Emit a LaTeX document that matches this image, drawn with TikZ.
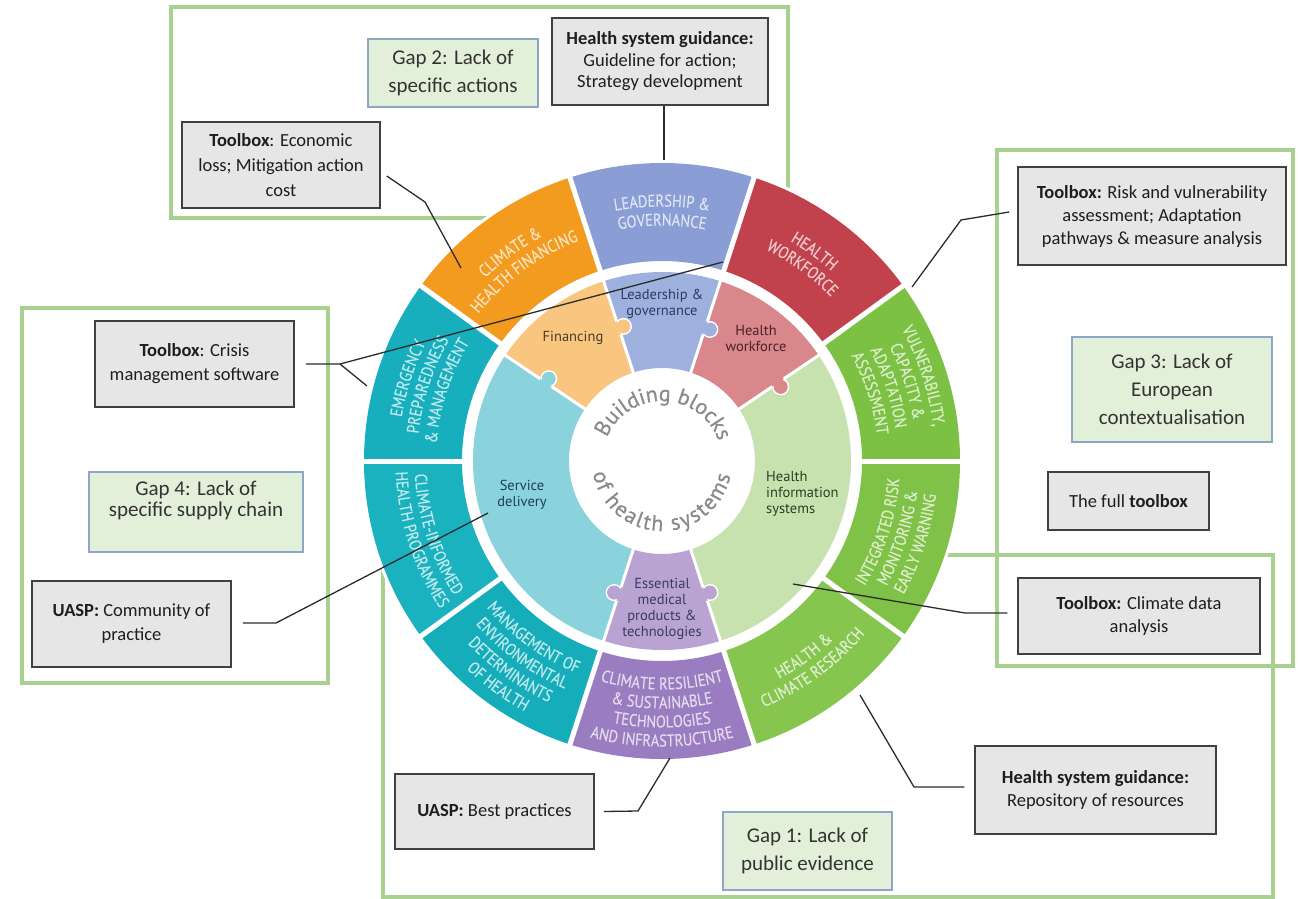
\documentclass[tikz,border=0pt]{standalone}
\usepackage{fontspec}
\setmainfont{Carlito}
\newfontfamily\wheelfont{PT Sans}
\newfontfamily\centerfont[FakeBold=0.6]{PT Sans}
\newfontfamily\ringfont[FakeStretch=0.85,FakeBold=0.35]{PT Sans}
\usetikzlibrary{decorations.text}

\definecolor{frameG}{HTML}{A9D08E}
\definecolor{boxfill}{HTML}{E7E6E6}
\definecolor{boxline}{HTML}{404040}
\definecolor{gapfill}{HTML}{E2EFD9}
\definecolor{gapline}{HTML}{8EA6C6}
\definecolor{txt}{HTML}{1E1E1E}
\definecolor{gaptxt}{HTML}{333333}
\definecolor{connc}{HTML}{2B2B2B}
% outer ring
\definecolor{segBlue}{HTML}{8A9ED5}
\definecolor{segRed}{HTML}{C1414D}
\definecolor{segGreenA}{HTML}{7CC143}
\definecolor{segGreenB}{HTML}{80C247}
\definecolor{segGreenC}{HTML}{86C54E}
\definecolor{segPurple}{HTML}{9A7DC0}
\definecolor{segTealA}{HTML}{17AFBD}
\definecolor{segTealB}{HTML}{1BB2C0}
\definecolor{segTealC}{HTML}{16ADBB}
\definecolor{segOrange}{HTML}{F39B1F}
% middle ring
\definecolor{mBlue}{HTML}{9EB1DE}
\definecolor{mOrange}{HTML}{F9C67F}
\definecolor{mRose}{HTML}{D9878B}
\definecolor{mTeal}{HTML}{8AD3DD}
\definecolor{mPurple}{HTML}{B9A3D3}
\definecolor{mGreen}{HTML}{C8E2AF}
% middle text
\definecolor{tNavy}{HTML}{2D3A62}
\definecolor{tBrown}{HTML}{4A3B28}
\definecolor{tDRed}{HTML}{4A2326}
\definecolor{tDTeal}{HTML}{1F3F57}
\definecolor{tDGreen}{HTML}{2B4020}
\definecolor{tDPurple}{HTML}{3B3A63}
\definecolor{centerGray}{HTML}{8A8A8A}

\newcommand\wsector[5]{%
  \fill[#1] (#2:#4) arc[start angle=#2,end angle=#3,radius=#4]
    -- (#3:#5) arc[start angle=#3,end angle=#2,radius=#5] -- cycle;}
\newcommand\knob[4]{%
  \fill[white] (#2:140) circle[radius=8.5];
  \fill[#1] (#2:140) circle[radius=7];
  \begin{scope}
    \clip (#3:93) arc[start angle=#3,end angle=#4,radius=93]
      -- (#4:189) arc[start angle=#4,end angle=#3,radius=189] -- cycle;
    \fill[#1] (#2:140) circle[radius=9];
  \end{scope}}
\newcommand\ringup[4]{%
  \path[decorate,decoration={text along path,text align=center,
    text={|\ringfont\fontsize{17}{17}\selectfont\color{#3}|#4}}]
    ({#1+45}:#2) arc[start angle=#1+45,end angle=#1-45,radius=#2];}
\newcommand\ringdn[4]{%
  \path[decorate,decoration={text along path,text align=center,
    text={|\ringfont\fontsize{17}{17}\selectfont\color{#3}|#4}}]
    ({#1-45}:#2) arc[start angle=#1-45,end angle=#1+45,radius=#2];}

\tikzset{
  frame/.style={draw=frameG,line width=3.5},
  graybox/.style={draw=boxline,fill=boxfill,line width=1.5,inner sep=0,
    align=center,text=txt,font=\fontsize{18.5}{23}\selectfont},
  gapbox/.style={draw=gapline,fill=gapfill,line width=1.1,inner sep=0,
    align=center,text=gaptxt,font=\fontsize{21}{28}\selectfont},
  conn/.style={draw=connc,line width=1.3},
  mtext/.style={inner sep=0,align=center,font=\wheelfont\fontsize{14.5}{16}\selectfont},
  sepO/.style={draw=white,line width=5},
  sepM/.style={draw=white,line width=3}
}

\begin{document}
\begin{tikzpicture}[x=1pt,y=1pt]
\useasboundingbox (0,0) rectangle (1298,-899);

% green frames
\draw[frame] (171,-7) rectangle (788,-218);
\draw[frame] (22,-308) rectangle (328,-683);
\draw[frame] (997,-150) rectangle (1293,-666);
\draw[frame] (383,-555) rectangle (1273,-897);

% ---------------- wheel ----------------
\begin{scope}[shift={(662,-461)}]
  \fill[white] (0,0) circle[radius=301];
  % outer ring
  \wsector{segBlue}{72}{108}{200}{298}
  \wsector{segRed}{36}{72}{200}{298}
  \wsector{segGreenA}{0}{36}{200}{298}
  \wsector{segGreenB}{-36}{0}{200}{298}
  \wsector{segGreenC}{-72}{-36}{200}{298}
  \wsector{segPurple}{-108}{-72}{200}{298}
  \wsector{segTealC}{-144}{-108}{200}{298}
  \wsector{segTealB}{180}{216}{200}{298}
  \wsector{segTealA}{144}{180}{200}{298}
  \wsector{segOrange}{108}{144}{200}{298}
  \foreach \a in {0,36,...,324} \draw[sepO] (\a:195) -- (\a:303);
  % middle ring
  \wsector{mBlue}{72}{108}{93}{189}
  \wsector{mOrange}{108}{146}{93}{189}
  \wsector{mTeal}{146}{252}{93}{189}
  \wsector{mPurple}{252}{288}{93}{189}
  \wsector{mGreen}{-72}{34}{93}{189}
  \wsector{mRose}{34}{72}{93}{189}
  \foreach \a in {108,72,34,-72,-108,146} \draw[sepM] (\a:90) -- (\a:192);
  \knob{mOrange}{106}{108}{146}
  \knob{mBlue}{70}{72}{108}
  \knob{mTeal}{144}{146}{252}
  \knob{mRose}{32}{34}{72}
  \knob{mPurple}{250}{252}{288}
  \knob{mPurple}{290}{252}{288}

  % outer ring texts
  \ringup{90}{254.5}{segBlue!28!white}{LEADERSHIP {\&}}
  \ringup{90}{235.5}{segBlue!28!white}{GOVERNANCE}
  \ringup{54}{254.5}{segRed!28!white}{HEALTH}
  \ringup{54}{235.5}{segRed!28!white}{WORKFORCE}
  \ringup{18}{273.5}{segGreenA!28!white}{VULNERABILITY,}
  \ringup{18}{254.5}{segGreenA!28!white}{CAPACITY {\&}}
  \ringup{18}{235.5}{segGreenA!28!white}{ADAPTATION}
  \ringup{18}{216.5}{segGreenA!28!white}{ASSESSMENT}
  \ringup{162}{264}{segTealA!28!white}{EMERGENCY}
  \ringup{162}{245}{segTealA!28!white}{PREPAREDNESS}
  \ringup{162}{226}{segTealA!28!white}{{\&} MANAGEMENT}
  \ringup{126}{254.5}{segOrange!28!white}{CLIMATE {\&}}
  \ringup{126}{235.5}{segOrange!28!white}{HEALTH FINANCING}
  \ringdn{-18}{238}{segGreenB!28!white}{INTEGRATED RISK}
  \ringdn{-18}{257}{segGreenB!28!white}{MONITORING {\&}}
  \ringdn{-18}{276}{segGreenB!28!white}{EARLY WARNING}
  \ringdn{-54}{247.5}{segGreenC!28!white}{HEALTH {\&}}
  \ringdn{-54}{266.5}{segGreenC!28!white}{CLIMATE RESEARCH}
  \ringdn{-90}{228.5}{segPurple!28!white}{CLIMATE RESILIENT}
  \ringdn{-90}{247.5}{segPurple!28!white}{{\&} SUSTAINABLE}
  \ringdn{-90}{266.5}{segPurple!28!white}{TECHNOLOGIES}
  \ringdn{-90}{285.5}{segPurple!28!white}{AND INFRASTRUCTURE}
  \ringdn{-126}{228.5}{segTealC!28!white}{MANAGEMENT OF}
  \ringdn{-126}{247.5}{segTealC!28!white}{ENVIRONMENTAL}
  \ringdn{-126}{266.5}{segTealC!28!white}{DETERMINANTS}
  \ringdn{-126}{285.5}{segTealC!28!white}{OF HEALTH}
  \ringdn{-162}{247.5}{segTealB!28!white}{CLIMATE-INFORMED}
  \ringdn{-162}{266.5}{segTealB!28!white}{HEALTH PROGRAMMES}

  % middle ring texts
  \node[mtext,text=tNavy] (tlead) at (0,157) {Leadership \&\\governance};
  \node[mtext,text=tBrown] (tfin) at (-89,123) {Financing};
  \node[mtext,text=tDRed] (twork) at (94,122) {Health\\workforce};
  \node[mtext,text=tDTeal] (tserv) at (-140,-34) {Service\\delivery};
  \node[mtext,text=tDGreen,anchor=west,align=left] (tinfo) at (104,-33) {Health\\information\\systems};
  \node[mtext,text=tDPurple] (tess) at (0,-148) {Essential\\medical\\products \&\\technologies};

  % centre
  \path[decorate,decoration={text along path,text align=fit to path,
    text={|\centerfont\fontsize{22}{22}\selectfont\color{centerGray}|Building blocks}}]
    (157:60) arc[start angle=157,end angle=23,radius=60];
  \path[decorate,decoration={text along path,text align=fit to path,
    text={|\centerfont\fontsize{22}{22}\selectfont\color{centerGray}|of health systems}}]
    (190:70) arc[start angle=190,end angle=348,radius=70];
\end{scope}

% ---------------- boxes ----------------
\node[gapbox,minimum width=170,minimum height=68] (gap2) at (453,-73) {Gap 2: Lack of\\specific actions};
\node[graybox,minimum width=216,minimum height=87,font=\fontsize{18.5}{21.5}\selectfont] (hsg) at (660,-61.5)
  {\textbf{Health system guidance:}\\Guideline for action;\\Strategy development};
\node[graybox,minimum width=198,minimum height=86,font=\fontsize{18.5}{25}\selectfont] (econ) at (281,-165)
  {\textbf{Toolbox}: Economic\\loss; Mitigation action\\cost};
\node[graybox,minimum width=199,minimum height=86,font=\fontsize{18.5}{24}\selectfont] (crisis) at (194.5,-364)
  {\textbf{Toolbox}: Crisis\\management software};
\node[gapbox,minimum width=214,minimum height=80,font=\fontsize{21}{21}\selectfont] (gap4) at (196,-512)
  {Gap 4: Lack of\\specific supply chain\\\strut};
\node[graybox,minimum width=199,minimum height=86,font=\fontsize{18.5}{24}\selectfont] (comm) at (131.5,-624)
  {\textbf{UASP:} Community of\\practice};
\node[graybox,minimum width=268,minimum height=98] (risk) at (1152,-216)
  {\textbf{Toolbox:} Risk and vulnerability\\assessment; Adaptation\\pathways \& measure analysis};
\node[gapbox,minimum width=200,minimum height=105] (gap3) at (1172,-389.5)
  {Gap 3: Lack of\\European\\contextualisation};
\node[graybox,minimum width=161,minimum height=58] (full) at (1128.5,-501) {The full \textbf{toolbox}};
\node[graybox,minimum width=242,minimum height=76] (cdata) at (1139,-616)
  {\textbf{Toolbox:} Climate data\\analysis};
\node[graybox,minimum width=241,minimum height=88] (repo) at (1095.5,-790)
  {\textbf{Health system guidance:}\\Repository of resources};
\node[graybox,minimum width=199,minimum height=75] (best) at (494.5,-811.5) {\textbf{UASP:} Best practices};
\node[gapbox,minimum width=169,minimum height=78] (gap1) at (807.5,-851) {Gap 1: Lack of\\public evidence};

% ---------------- connectors ----------------
\coordinate (cHsg) at (664,-160);
\draw[conn] ([xshift=4]hsg.south) -- (cHsg);
\coordinate (b1) at (425,-202); \coordinate (cEcon) at (461,-268);
\draw[conn] ([xshift=6,yshift=-11]econ.east) -- (b1) -- (cEcon);
\coordinate (b2) at (340,-364); \coordinate (cCrA) at (723,-262); \coordinate (cCrB) at (367,-386);
\draw[conn] ([xshift=11]crisis.east) -- (b2) -- (cCrA);
\draw[conn] (b2) -- (cCrB);
\coordinate (b3) at (276,-623); \coordinate (cComm) at (488,-513);
\draw[conn] ([xshift=11,yshift=1]comm.east) -- (b3) -- (cComm);
\coordinate (b4) at (961,-220); \coordinate (cRisk) at (912,-287);
\draw[conn] ([xshift=-8,yshift=4]risk.west) -- (b4) -- (cRisk);
\coordinate (b5) at (965,-613); \coordinate (cData) at (793,-584);
\draw[conn] ([xshift=-10,yshift=3]cdata.west) -- (b5) -- (cData);
\coordinate (b6) at (914,-787); \coordinate (cRepo) at (860,-695);
\draw[conn] ([xshift=-10,yshift=3]repo.west) -- (b6) -- (cRepo);
\coordinate (b7) at (638,-811); \coordinate (cBest) at (670,-758);
\draw[conn] ([xshift=9]best.east) -- (b7) -- (cBest);
\end{tikzpicture}
\end{document}
